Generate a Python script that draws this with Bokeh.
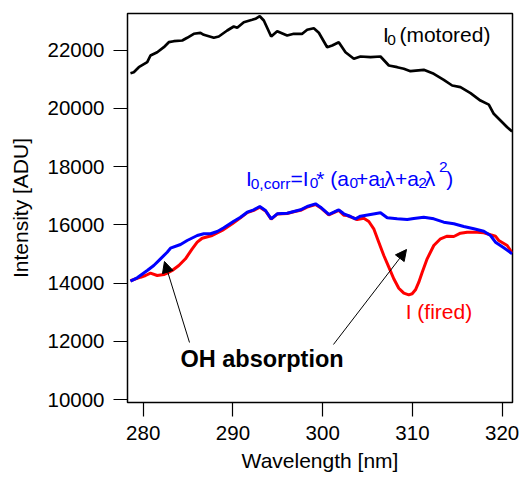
from bokeh.plotting import figure
from bokeh.models import Label, Arrow, NormalHead, FixedTicker, Range1d
from bokeh.embed import file_html
from bokeh.resources import INLINE

# ---------------- data ----------------
wl_motored = [278.58, 278.95, 279.51, 280.45, 280.81, 281.56, 282.30, 282.85, 283.41, 284.35,
              284.90, 285.64, 286.38, 286.75, 287.87, 288.42, 289.36, 290.09, 290.47, 291.21,
              292.14, 292.51, 292.99, 293.44, 294.26, 294.93, 296.04, 296.78, 297.72, 298.27,
              299.01, 299.57, 300.50, 301.06, 301.79, 302.54, 303.47, 304.21, 305.33, 306.44,
              307.37, 308.30, 309.04, 309.78, 311.26, 312.38, 313.49, 314.43, 315.35, 316.47,
              317.58, 318.51, 319.06, 319.81, 320.56, 321.11]
i_motored = [21212, 21246, 21418, 21590, 21820, 21933, 22105, 22277, 22311, 22335,
             22428, 22566, 22600, 22531, 22428, 22473, 22679, 22816, 22772, 22964,
             23047, 23081, 23170, 23023, 22473, 22655, 22507, 22566, 22566, 22703,
             22758, 22600, 22105, 22163, 22277, 21933, 21706, 21785, 21761, 21785,
             21476, 21418, 21363, 21280, 21328, 21191, 20985, 20789, 20731, 20525,
             20271, 20133, 19816, 19586, 19356, 19208]

wl_corr = [278.58, 279.33, 280.45, 281.18, 281.93, 282.67, 283.04, 284.16, 284.90, 286.02,
           286.75, 287.50, 288.25, 288.98, 290.09, 290.84, 291.59, 292.32, 292.99, 293.63,
           294.26, 294.93, 296.04, 296.78, 297.53, 298.27, 299.20, 299.76, 300.68, 301.24,
           301.79, 302.35, 303.10, 303.65, 304.21, 305.33, 306.44, 307.19, 308.30, 309.42,
           310.15, 311.26, 312.38, 313.49, 314.61, 315.72, 316.84, 317.95, 318.70, 319.25,
           320.18, 321.11]
i_corr = [14065, 14182, 14432, 14604, 14834, 15061, 15199, 15326, 15463, 15635,
          15694, 15694, 15772, 15900, 16126, 16264, 16436, 16518, 16631, 16494,
          16209, 16381, 16401, 16460, 16518, 16631, 16724, 16607, 16357, 16436,
          16518, 16381, 16288, 16209, 16298, 16357, 16415, 16243, 16209, 16185,
          16219, 16264, 16209, 16092, 16037, 15944, 15865, 15783, 15635, 15405,
          15212, 15006]

wl_fired = [278.58, 279.70, 280.26, 280.81, 281.56, 282.30, 282.67, 283.23, 283.97, 284.71,
            285.46, 286.02, 286.57, 287.69, 288.80, 289.92, 290.84, 291.59, 292.32, 292.99,
            293.63, 294.26, 294.93, 296.04, 296.78, 297.53, 298.27, 299.20, 299.76, 300.68,
            301.24, 301.79, 302.35, 302.73, 303.84, 304.58, 305.14, 305.69, 306.25, 306.81,
            307.37, 307.92, 308.48, 309.04, 309.59, 309.97, 310.34, 310.71, 311.09, 311.64,
            312.38, 313.13, 313.87, 314.61, 315.35, 316.10, 317.21, 317.95, 318.70, 319.25,
            319.62, 320.56, 321.11]
i_fired = [14080, 14202, 14261, 14340, 14261, 14295, 14340, 14433, 14604, 14834,
           15178, 15405, 15542, 15635, 15807, 16037, 16240, 16420, 16500, 16610,
           16480, 16200, 16370, 16390, 16450, 16500, 16610, 16700, 16590, 16340,
           16420, 16500, 16330, 16322, 16185, 16229, 16116, 15865, 15405, 14948,
           14546, 14148, 13824, 13653, 13597, 13632, 13769, 14030, 14374, 14834,
           15291, 15522, 15611, 15601, 15714, 15748, 15748, 15728, 15659, 15611,
           15464, 15291, 15040]

x_ticks = [280, 290, 300, 310, 320]
y_ticks = [10000, 12000, 14000, 16000, 18000, 20000, 22000]

FONT = "Liberation Sans"
MAIN = "21px"
SUB = "15.5px"
DY = 300  # baseline correction for label placement

# ---------------- figure ----------------
p = figure(width=528, height=482, output_backend="svg", toolbar_location=None,
           x_range=Range1d(278.25, 321.15), y_range=Range1d(9897, 23263))
p.min_border_left = 127
p.min_border_right = 16
p.min_border_top = 13
p.min_border_bottom = 80
p.background_fill_color = "white"
p.border_fill_color = "white"
p.outline_line_color = "black"
p.outline_line_width = 1.5
p.xgrid.visible = False
p.ygrid.visible = False

for ax in (p.xaxis[0], p.yaxis[0]):
    ax.major_tick_in = 0
    ax.major_tick_out = 14
    ax.minor_tick_line_color = None
    ax.major_tick_line_color = "black"
    ax.major_tick_line_width = 1.2
    ax.axis_line_color = None
    ax.major_label_text_font = FONT
    ax.major_label_text_font_size = "20.5px"
    ax.major_label_text_color = "black"
    ax.axis_label_text_font = FONT
    ax.axis_label_text_font_size = MAIN
    ax.axis_label_text_font_style = "normal"
    ax.axis_label_text_color = "black"

p.xaxis.ticker = FixedTicker(ticks=x_ticks)
p.yaxis.ticker = FixedTicker(ticks=y_ticks)
p.xaxis.axis_label = "Wavelength [nm]"
p.yaxis.axis_label = "Intensity [ADU]"
p.xaxis.major_label_standoff = 9
p.yaxis.major_label_standoff = 9
p.xaxis.axis_label_standoff = 6
p.yaxis.axis_label_standoff = 12

# ---------------- lines ----------------
p.line(wl_motored, i_motored, line_color="black", line_width=2.7)
p.line(wl_fired, i_fired, line_color="#ff0000", line_width=3)
p.line(wl_corr, i_corr, line_color="#0000ff", line_width=3)


def lab(x, y, text, color="black", size=MAIN, style="normal"):
    p.add_layout(Label(x=x, y=y + DY, text=text, text_font=FONT, text_font_size=size,
                       text_color=color, text_font_style=style,
                       text_baseline="alphabetic", text_align="left"))


# I0 (motored)
lab(306.72, 22232, "I")
lab(307.20, 22050, "0", size=SUB)
lab(308.55, 22232, "(motored)")

# I (fired)
lab(309.25, 12714, "I (fired)", color="#ff0000")

# I0,corr = I0* (a0 + a1 λ + a2 λ^2)
B = "#0000ff"
ym, ys, yp = 17295, 17123, 17680
lab(291.45, ym, "I", B)
lab(291.98, ys, "0,corr", B, SUB)
lab(296.40, ym, "=I", B)
lab(298.56, ys, "0", B, SUB)
lab(299.28, ym, "* (a", B)
lab(302.98, ys, "0", B, SUB)
lab(303.72, ym, "+a", B)
lab(306.18, ys, "1", B, SUB)
lab(306.88, ym, "λ+a", B)
lab(310.64, ys, "2", B, SUB)
lab(311.38, ym, "λ", B)
lab(312.96, yp, "2", B, SUB)
lab(313.76, ym, ")", B)

# OH absorption
lab(284.15, 11100, "OH absorption", size="23.5px", style="bold")

# arrows
for xs, ys_, xe, ye in [(285.16, 11959, 282.37, 14742), (301.2, 11890, 309.34, 15154)]:
    p.add_layout(Arrow(end=NormalHead(size=11, fill_color="black", line_color="black", line_width=1),
                       x_start=xs, y_start=ys_, x_end=xe, y_end=ye,
                       line_color="black", line_width=1))

open("out.html", "w").write(file_html(p, INLINE))
